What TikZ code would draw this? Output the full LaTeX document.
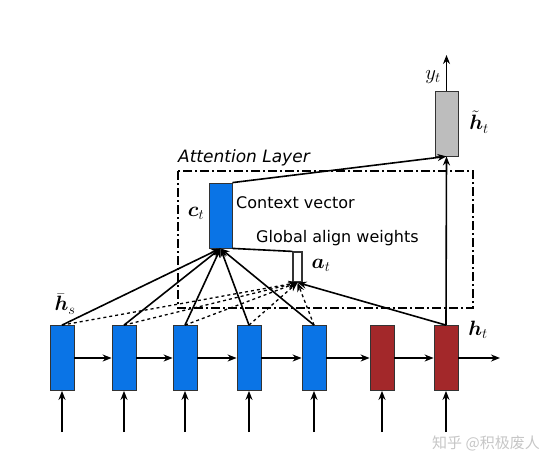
\documentclass[tikz,border=0pt]{standalone}
\usepackage{fontspec}
\usepackage{amsmath,bm}
\setsansfont{DejaVu Sans}
\newfontfamily\cjk{Noto Sans CJK SC}
\usetikzlibrary{arrows.meta}
\definecolor{cellblue}{HTML}{0A74E6}
\definecolor{cellred}{HTML}{A3282A}
\definecolor{cellgray}{HTML}{BDBDBD}

\begin{document}
\begin{tikzpicture}[x=1pt,y=-1pt,
  cell/.style={draw=black!80,line width=0.8pt,minimum width=24pt,minimum height=65pt,inner sep=0pt},
  arr/.style={-{Stealth[length=9pt,width=7pt]},line width=1.6pt},
  lbl/.style={font=\fontsize{20.74}{22}\selectfont,inner sep=0pt},
  txt/.style={font=\sffamily\fontsize{16}{18}\selectfont}]
  \useasboundingbox (0,0) rectangle (560,467);
  % attention layer frame
  \draw[line width=1.6pt,dash pattern=on 9pt off 3pt on 2pt off 3pt] (178,171) rectangle (473,308);
  % source and target states
  \foreach \i/\x/\c in {1/62/cellblue,2/124/cellblue,3/185/cellblue,4/249/cellblue,5/314/cellblue,6/382/cellred,7/446/cellred}{
    \node[cell,fill=\c] (h\i) at (\x,358) {};
    \coordinate (in\i) at (\x,432);
    \draw[arr] (in\i) -- (h\i);
  }
  \foreach \i/\j in {1/2,2/3,3/4,4/5,5/6,6/7} \draw[arr] (h\i) -- (h\j);
  \coordinate (out) at (500,358);
  \draw[arr] (h7) -- (out);
  \node[cell,fill=cellblue,minimum width=23pt] (ct) at (220.5,215.5) {};
  \node[cell,fill=white,minimum width=9pt,minimum height=30pt,line width=1.2pt] (at) at (297.5,267) {};
  \node[cell,fill=cellgray,minimum width=23pt] (ht) at (446.5,123.5) {};
  \coordinate (yt) at (446.5,55);
  % connections
  \foreach \i in {1,...,5}{
    \draw[arr] (h\i.north) -- (ct.south);
    \draw[arr,dashed,line width=1.3pt] (h\i.north) -- (at.south);
  }
  \draw[arr] (h7.north) -- (at.south);
  \draw[arr] (h7.north) -- (ht.south);
  \draw[arr] (ct.north east) -- (ht.south);
  \draw[line width=1.6pt] (ct.south east) -- (at.north west);
  \draw[arr] (ht.north) -- (yt);
  % labels
  \node[lbl] (hs-lbl) at (65,304) {$\bar{\bm h}_s$};
  \node[lbl] (ht-lbl) at (478,330) {$\bm h_t$};
  \node[lbl] (hh-lbl) at (479,122) {$\tilde{\bm h}_t$};
  \node[lbl] (yt-lbl) at (433,77) {$y_t$};
  \node[lbl] (ct-lbl) at (196,213) {$\bm c_t$};
  \node[lbl] (at-lbl) at (321,265) {$\bm a_t$};
  \node[txt,anchor=west,inner sep=0pt] (cv-txt) at (236,203) {Context vector};
  \node[txt,anchor=west,inner sep=0pt] (gw-txt) at (256,238) {Global align weights};
  \node[font=\sffamily\itshape\fontsize{17}{18}\selectfont,anchor=base west,inner sep=0pt] (al-txt) at (178,162) {Attention Layer};
  \node[font=\cjk\fontsize{15}{16}\selectfont,text=gray!45] (wm) at (486,443) {知乎 @积极废人};
\end{tikzpicture}
\end{document}
